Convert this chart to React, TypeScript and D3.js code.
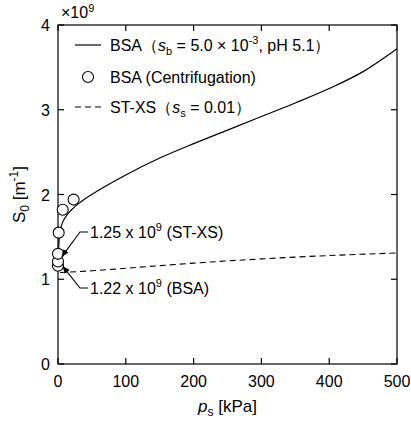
import React from "react";
import * as d3 from "d3";

// BSA model curve (s_b = 5.0e-3, pH 5.1), values in 1e9 m^-1
const bsaP = [0, 2, 5, 10, 20, 35, 60, 100, 150, 200, 250, 300, 350, 400, 450, 500];
const bsaS = [1.22, 1.5, 1.63, 1.72, 1.82, 1.92, 2.05, 2.23, 2.43, 2.6, 2.76, 2.92, 3.08, 3.25, 3.45, 3.72];

// BSA centrifugation points
const cenP = [0, 0, 0, 1, 7, 23];
const cenS = [1.16, 1.21, 1.3, 1.55, 1.82, 1.94];

// ST-XS model curve (s_s = 0.01)
const stP = [3, 50, 100, 200, 300, 400, 500];
const stS = [1.08, 1.1, 1.13, 1.19, 1.24, 1.28, 1.31];

const xTicks = [0, 100, 200, 300, 400, 500];
const yTicks = [0, 1, 2, 3, 4];

const W = 411, H = 421;
const m = { left: 58, right: 14, top: 25, bottom: 57 };
const font = "Arial, 'Liberation Sans', sans-serif";

export default function App() {
  const x = d3.scaleLinear().domain([0, 500]).range([m.left, W - m.right]);
  const y = d3.scaleLinear().domain([0, 4]).range([H - m.bottom, m.top]);

  const mk = (ps: number[], ss: number[]) =>
    d3.line<number>().x(p => x(p)).y((_, i) => y(ss[i])).curve(d3.curveMonotoneX)(ps) || "";

  const x0 = m.left, x1 = W - m.right, y0 = H - m.bottom, y1 = m.top;
  const tl = 6;
  const fs = 16;

  return (
    <svg width={W} height={H} style={{ position: "absolute", left: 0, top: 0 }} fontFamily={font}>
      <defs>
        <marker id="ah" viewBox="0 0 10 10" refX="9" refY="5" markerWidth="7" markerHeight="7" orient="auto">
          <path d="M0,1 L10,5 L0,9 Z" fill="#000" />
        </marker>
      </defs>
      <rect x={0} y={0} width={W} height={H} fill="#fff" />
      {/* frame */}
      <rect x={x0} y={y1} width={x1 - x0} height={y0 - y1} fill="none" stroke="#000" strokeWidth={1.2} />
      {xTicks.map(t => (
        <g key={"x" + t}>
          <line x1={x(t)} x2={x(t)} y1={y0} y2={y0 - tl} stroke="#000" strokeWidth={1.2} />
          <line x1={x(t)} x2={x(t)} y1={y1} y2={y1 + tl} stroke="#000" strokeWidth={1.2} />
          <text x={x(t)} y={y0 + 23} textAnchor="middle" fontSize={fs}>{t}</text>
        </g>
      ))}
      {yTicks.map(t => (
        <g key={"y" + t}>
          <line x1={x0} x2={x0 + tl} y1={y(t)} y2={y(t)} stroke="#000" strokeWidth={1.2} />
          <line x1={x1} x2={x1 - tl} y1={y(t)} y2={y(t)} stroke="#000" strokeWidth={1.2} />
          <text x={x0 - 8} y={y(t) + 6} textAnchor="end" fontSize={fs}>{t}</text>
        </g>
      ))}
      <text x={61} y={18} fontSize={fs}>×10<tspan dy={-6} fontSize={11}>9</tspan></text>

      {/* axis labels */}
      <text x={x(250)} y={412} textAnchor="middle" fontSize={17}>
        <tspan fontStyle="italic">p</tspan><tspan dy={4} fontSize={12}>s</tspan><tspan dy={-4}> [kPa]</tspan>
      </text>
      <text transform={`translate(25,${(y0 + y1) / 2}) rotate(-90)`} textAnchor="middle" fontSize={17}>
        S<tspan dy={4} fontSize={12}>0</tspan><tspan dy={-4}> [m</tspan><tspan dy={-7} fontSize={12}>-1</tspan><tspan dy={7}>]</tspan>
      </text>

      {/* curves */}
      <path d={mk(stP, stS)} fill="none" stroke="#000" strokeWidth={1.1} strokeDasharray="6,4" />
      <path d={mk(bsaP, bsaS)} fill="none" stroke="#000" strokeWidth={1.2} />
      {cenP.map((p, i) => (
        <circle key={i} cx={x(p)} cy={y(cenS[i])} r={5.5} fill="#fff" stroke="#000" strokeWidth={1.1} />
      ))}

      {/* annotations */}
      <polyline points={`88,232 80,232 ${x(0) + 4},${y(1.27)}`} fill="none" stroke="#000" strokeWidth={1.1} markerEnd="url(#ah)" />
      <text x={90} y={238} fontSize={fs}>1.25 x 10<tspan dy={-7} fontSize={11}>9</tspan><tspan dy={7}> (ST-XS)</tspan></text>
      <polyline points={`88,288 80,288 ${x(0) + 5},${y(1.15)}`} fill="none" stroke="#000" strokeWidth={1.1} markerEnd="url(#ah)" />
      <text x={90} y={294} fontSize={fs}>1.22 x 10<tspan dy={-7} fontSize={11}>9</tspan><tspan dy={7}> (BSA)</tspan></text>

      {/* legend */}
      <line x1={75} x2={101} y1={45} y2={45} stroke="#000" strokeWidth={1.2} />
      <text x={110} y={51} fontSize={fs}>
        BSA（<tspan fontStyle="italic">s</tspan><tspan dy={4} fontSize={11}>b</tspan><tspan dy={-4}> = 5.0 × 10</tspan><tspan dy={-7} fontSize={11}>-3</tspan><tspan dy={7}>, pH 5.1）</tspan>
      </text>
      <circle cx={88} cy={77} r={5.5} fill="#fff" stroke="#000" strokeWidth={1.1} />
      <text x={110} y={83} fontSize={fs}>BSA (Centrifugation)</text>
      <line x1={75} x2={101} y1={107} y2={107} stroke="#000" strokeWidth={1.1} strokeDasharray="6,4" />
      <text x={110} y={113} fontSize={fs}>
        ST-XS（<tspan fontStyle="italic">s</tspan><tspan dy={4} fontSize={11}>s</tspan><tspan dy={-4}> = 0.01）</tspan>
      </text>
    </svg>
  );
}
